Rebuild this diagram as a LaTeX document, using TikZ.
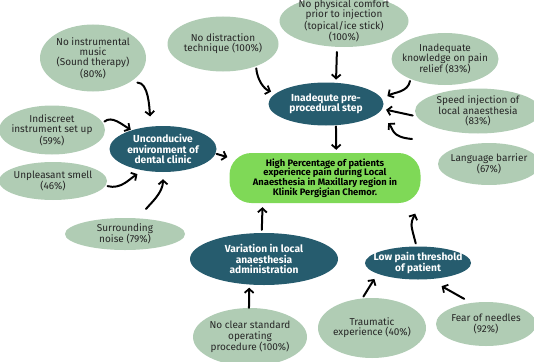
\documentclass[tikz,border=0pt]{standalone}
\usepackage{fontspec}
\setmainfont{Fira Sans}
\usepackage{tikz}
\usepackage{xcolor}
\usetikzlibrary{shapes.geometric, arrows.meta, positioning}

\definecolor{leafgreen}{HTML}{B0CCB4}
\definecolor{tealdark}{HTML}{265C6E}
\definecolor{limegreen}{HTML}{7FD957}

\tikzset{
    cause/.style={ellipse, fill=leafgreen, inner xsep=-14pt, inner ysep=-8pt, align=center,
        text=black!85, font=\fontsize{10}{10.2}\selectfont},
    factor/.style={ellipse, fill=tealdark, inner xsep=-14pt, inner ysep=-8pt, align=center,
        text=white, font=\bfseries\fontsize{10.2}{10.2}\selectfont},
    problem/.style={rectangle, rounded corners=22pt, fill=limegreen, inner sep=0pt, align=center,
        font=\bfseries\fontsize{9.4}{9.8}\selectfont},
    arr/.style={-{Straight Barb[length=4pt, width=9pt, line width=1.8pt]}, line width=2pt,
        line cap=round, shorten <=2pt, shorten >=3pt}
}

\begin{document}
\begin{tikzpicture}[x=1pt, y=1pt]
        \useasboundingbox (0,0) rectangle (534,-361);

        \node[problem, minimum width=191pt, minimum height=50pt] (main) at (325,-178)
            {High Percentage of patients\\experience pain during Local\\Anaesthesia in Maxillary region in\\Klinik Pergigian Chemor.};

        \node[factor, minimum width=115pt, minimum height=43pt] (pre) at (326,-104) {Inadequte pre-\\procedural step};
        \node[factor, minimum width=107pt, minimum height=46pt] (env) at (163,-149) {Unconducive\\environment of\\dental clinic};
        \node[factor, minimum width=148pt, minimum height=52pt] (var) at (264,-259) {Variation in local\\anaesthesia\\administration};
        \node[factor, minimum width=106pt, minimum height=33pt] (low) at (418,-263) {Low pain threshold\\of patient};

        \node[cause, minimum width=106pt, minimum height=67pt] (music) at (93,-58) {No instrumental\\music\\(Sound therapy)\\(80\%)};
        \node[cause, minimum width=111pt, minimum height=55pt] (distr) at (223,-44) {No distraction\\technique (100\%)};
        \node[cause, minimum width=129pt, minimum height=52pt] (phys) at (344,-21) {No physical comfort\\prior to injection\\(topical/ice stick)\\(100\%)};
        \node[cause, minimum width=107pt, minimum height=52pt] (know) at (445,-59) {Inadequate\\knowledge on pain\\relief (83\%)};
        \node[cause, minimum width=126pt, minimum height=45pt] (speed) at (478,-111) {Speed injection of\\local anaesthesia\\(83\%)};
        \node[cause, minimum width=102pt, minimum height=42pt] (lang) at (489,-164) {Language barrier\\(67\%)};
        \node[cause, minimum width=106pt, minimum height=49pt] (indis) at (52,-130) {Indiscreet\\instrument set up\\(59\%)};
        \node[cause, minimum width=108pt, minimum height=38pt] (smell) at (53,-181) {Unpleasant smell\\(46\%)};
        \node[cause, minimum width=120pt, minimum height=32pt] (noise) at (125,-234) {Surrounding\\noise (79\%)};
        \node[cause, minimum width=114pt, minimum height=58pt] (sop) at (250,-337) {No clear standard\\operating\\procedure (100\%)};
        \node[cause, minimum width=108pt, minimum height=60pt] (trauma) at (372,-328) {Traumatic\\experience (40\%)};
        \node[cause, minimum width=100pt, minimum height=44pt] (fear) at (486,-324) {Fear of needles\\(92\%)};

        \coordinate (langtail) at (412,-139);

        \draw[arr, shorten <=8pt, shorten >=10pt] (music.-34) to[out=0, in=95] (env.118);
        \draw[arr, shorten >=1pt] (indis.8) to[out=40, in=150] (env.149);
        \draw[arr, shorten >=7pt] (smell.-5) to[out=-15, in=210] (env.-132);
        \draw[arr, shorten <=12pt, shorten >=7pt] (noise.50) to[out=50, in=-90] (env.south);
        \draw[arr, shorten <=1pt, shorten >=2pt] (env.-5) -- (main.168);

        \draw[arr, shorten >=5pt] (distr.-34) to[out=-85, in=160] (pre.168);
        \draw[arr, shorten <=5pt] (phys.-105) -- (pre.65);
        \draw[arr, shorten >=6pt] (know.-150) to[out=-100, in=30] (pre.5);
        \draw[arr, shorten <=4pt, shorten >=4pt] (speed.185) -- (pre.-5);
        \draw[arr, shorten <=0pt, shorten >=14pt] (langtail) to[out=175, in=-45, looseness=1.3] (pre.-10);
        \draw[arr, shorten <=1pt] (pre.-65) -- (main.66);

        \draw[arr, shorten <=3pt, shorten >=4pt] (var.95) -- (main.-158);
        \draw[arr, shorten <=0pt] (sop.92) -- (var.-120);
        \draw[arr, shorten <=3pt, shorten >=13pt] (low.95) to[out=105, in=-115, looseness=1.4] (main.-14);
        \draw[arr, shorten >=6pt] (trauma.108) -- (low.-165);
        \draw[arr, shorten <=8pt, shorten >=14pt] (fear.125) -- (low.-55);
\end{tikzpicture}
\end{document}
